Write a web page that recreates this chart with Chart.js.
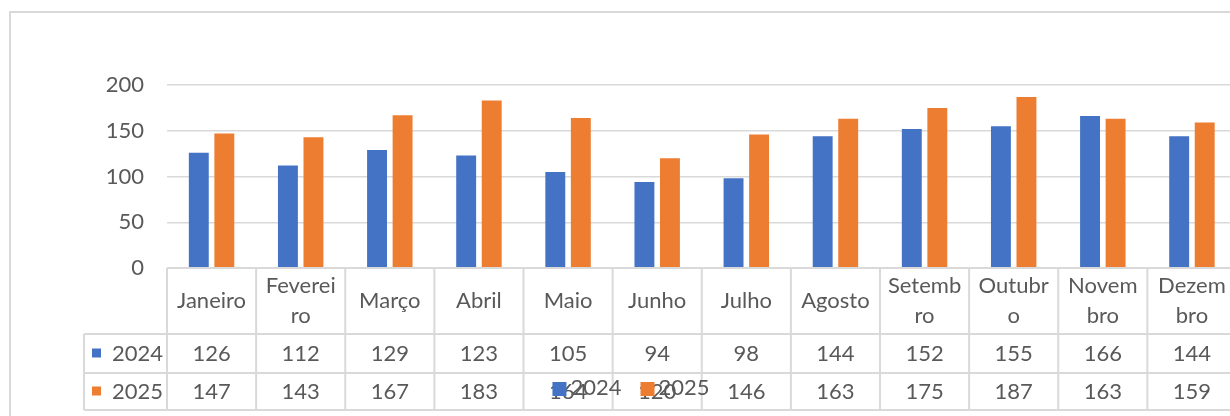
<!DOCTYPE html>
<html>
<head>
<meta charset="utf-8">
<script src="https://cdn.jsdelivr.net/npm/chart.js@4.4.1/dist/chart.umd.min.js"></script>
<style>
    html, body { margin: 0; padding: 0; background: #ffffff; overflow: hidden; }
    #wrap { position: absolute; left: 0; top: 0; width: 1250px; height: 430px; }
</style>
</head>
<body>
<div id="wrap"><canvas id="chart" width="1250" height="430"></canvas></div>
<script>
// Data
const categories = ["Janeiro", ["Feverei", "ro"], "Março", "Abril", "Maio", "Junho", "Julho",
    "Agosto", ["Setemb", "ro"], ["Outubr", "o"], ["Novem", "bro"], ["Dezem", "bro"]];
const seriesNames = ["2024", "2025"];
const values2024 = [126, 112, 129, 123, 105, 94, 98, 144, 152, 155, 166, 144];
const values2025 = [147, 143, 167, 183, 164, 120, 146, 163, 175, 187, 163, 159];
const yMax = 200;
const yStep = 50;

const textColor = "#595959";
const lineColor = "#d9d9d9";
const fontFamily = "Lato, 'Open Sans', sans-serif";
const fontSize = 22;

// data table under the plot + legend drawn on top of it
const tablePlugin = {
    id: "dataTable",
    afterDraw(chart) {
        const ctx = chart.ctx;
        const x = chart.scales.x;
        const area = chart.chartArea;
        const n = categories.length;
        const step = (area.right - area.left) / n;

        const tableLeft = 84;
        const headTop = area.bottom;
        const headBottom = area.bottom + 66;
        const row1Bottom = headBottom + 39;
        const row2Bottom = row1Bottom + 37;
        const rows = [
            { data: values2024, color: chart.data.datasets[0].backgroundColor, name: seriesNames[0], mid: (headBottom + row1Bottom) / 2 },
            { data: values2025, color: chart.data.datasets[1].backgroundColor, name: seriesNames[1], mid: (row1Bottom + row2Bottom) / 2 }
        ];

        ctx.save();
        ctx.strokeStyle = lineColor;
        ctx.lineWidth = 2;
        ctx.beginPath();
        // horizontal lines
        ctx.moveTo(area.left, headTop); ctx.lineTo(area.right, headTop);
        [headBottom, row1Bottom, row2Bottom].forEach(function (y) {
            ctx.moveTo(tableLeft, y); ctx.lineTo(area.right, y);
        });
        // vertical lines
        for (let i = 0; i <= n; i++) {
            const px = x.getPixelForValue(0) - step / 2 + i * step;
            ctx.moveTo(px, headTop); ctx.lineTo(px, row2Bottom);
        }
        ctx.moveTo(tableLeft, headBottom); ctx.lineTo(tableLeft, row2Bottom);
        ctx.stroke();

        ctx.fillStyle = textColor;
        ctx.font = fontSize + "px " + fontFamily;
        ctx.textAlign = "center";
        ctx.textBaseline = "middle";
        const headMid = (headTop + headBottom) / 2;
        categories.forEach(function (label, i) {
            const cx = x.getPixelForValue(i);
            if (Array.isArray(label)) {
                ctx.fillText(label[0], cx, headMid - 15);
                ctx.fillText(label[1], cx, headMid + 15);
            } else {
                ctx.fillText(label, cx, headMid);
            }
        });

        rows.forEach(function (row) {
            row.data.forEach(function (v, i) {
                ctx.fillText(String(v), x.getPixelForValue(i), row.mid);
            });
            ctx.fillStyle = row.color;
            ctx.fillRect(92, row.mid - 5, 9, 9);
            ctx.fillStyle = textColor;
            ctx.textAlign = "left";
            ctx.fillText(row.name, 112, row.mid);
            ctx.textAlign = "center";
        });

        // legend (overlaps the table like in the original)
        const box = 14;
        const w1 = ctx.measureText(seriesNames[0]).width;
        const w2 = ctx.measureText(seriesNames[1]).width;
        const gap = 19;
        const total = box + 4 + w1 + gap + box + 4 + w2;
        let lx = 631 - total / 2;
        const ly = 388;
        ctx.textAlign = "left";
        chart.data.datasets.forEach(function (ds, i) {
            ctx.fillStyle = ds.backgroundColor;
            ctx.fillRect(lx, ly - box / 2 + 1, box, box);
            lx += box + 4;
            ctx.fillStyle = textColor;
            ctx.fillText(ds.label, lx, ly);
            lx += (i === 0 ? w1 : w2) + gap;
        });

        // outer chart border
        ctx.strokeStyle = lineColor;
        ctx.lineWidth = 2;
        ctx.strokeRect(10, 12, 1236, 412);
        ctx.restore();
    }
};

document.addEventListener("DOMContentLoaded", function () {
    const ctx = document.getElementById("chart").getContext("2d");
    new Chart(ctx, {
        type: "bar",
        data: {
            labels: categories,
            datasets: [{
                label: seriesNames[0],
                data: values2024,
                backgroundColor: "#4472C4",
                categoryPercentage: 0.573,
                barPercentage: 0.78
            }, {
                label: seriesNames[1],
                data: values2025,
                backgroundColor: "#ED7D31",
                categoryPercentage: 0.573,
                barPercentage: 0.78
            }]
        },
        options: {
            responsive: false,
            animation: false,
            layout: { padding: { left: 0, top: 85, right: 13.5, bottom: 162 } },
            plugins: {
                legend: { display: false },
                tooltip: { enabled: false }
            },
            scales: {
                x: { display: false },
                y: {
                    min: 0,
                    max: yMax,
                    afterFit: function (scale) { scale.width = 167; },
                    border: { display: false },
                    grid: { color: lineColor, lineWidth: 1.5, drawTicks: false },
                    ticks: {
                        stepSize: yStep,
                        padding: 23,
                        color: textColor,
                        font: { family: fontFamily, size: fontSize }
                    }
                }
            }
        },
        plugins: [tablePlugin]
    });
});
</script>
</body>
</html>
